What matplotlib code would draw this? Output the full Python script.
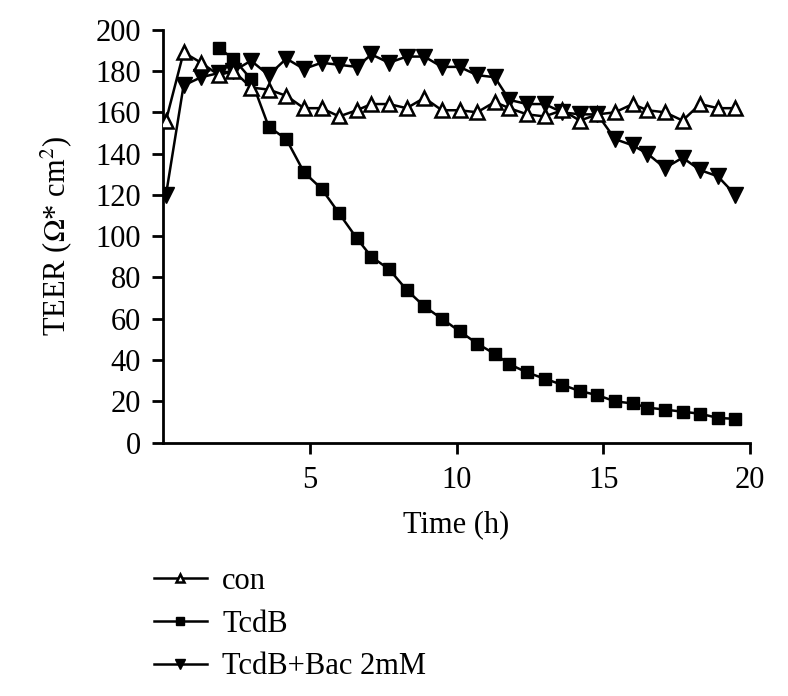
import matplotlib
matplotlib.use("Agg")
import matplotlib.pyplot as plt

plt.rcParams['font.family'] = ['Liberation Serif', 'DejaVu Serif']
plt.rcParams['mathtext.fontset'] = 'stix'

# time points (h)
time_h = [0.1, 0.7, 1.3, 1.9, 2.4, 3.0, 3.6, 4.2, 4.8, 5.4, 6.0, 6.6,
          7.1, 7.7, 8.3, 8.9, 9.5, 10.1, 10.7, 11.3, 11.8, 12.4, 13.0,
          13.6, 14.2, 14.8, 15.4, 16.0, 16.5, 17.1, 17.7, 18.3, 18.9, 19.5]

con = [156, 189, 184, 178, 180, 172, 171, 168, 162, 162, 158, 161,
       164, 164, 162, 167, 161, 161, 160, 165, 162, 159, 158, 161,
       156, 159, 160, 164, 161, 160, 156, 164, 162, 162]

# TcdB starts at the 4th time point
tcdb_start = 3
tcdb = [191, 186, 176, 153, 147, 131, 123, 111, 99, 90, 84, 74, 66,
        60, 54, 48, 43, 38, 34, 31, 28, 25, 23, 20, 19, 17, 16, 15,
        14, 12, 11.5]

tcdb_bac = [120, 173, 177, 179, 180, 185, 178, 186, 181, 184, 183, 182,
            188, 184, 187, 187, 182, 182, 178, 177, 166, 164, 164, 160,
            159, 159, 147, 144, 140, 133, 138, 132, 129, 120]

fs = 22

fig = plt.figure(figsize=(7.88, 6.96), dpi=100)
ax = fig.add_axes([0.2069, 0.364, 0.745, 0.5933])

ax.plot(time_h, con, color='black', lw=1.8, marker='^', ms=10,
        mfc='white', mec='black', mew=1.8, label='con', zorder=3)
ax.plot(time_h[tcdb_start:], tcdb, color='black', lw=1.8, marker='s', ms=9,
        mfc='black', mec='black', label='TcdB', zorder=2)
ax.plot(time_h, tcdb_bac, color='black', lw=1.8, marker='v', ms=11,
        mfc='black', mec='black', label='TcdB+Bac 2mM', zorder=2)

ax.set_xlim(0, 20)
ax.set_ylim(0, 200)
ax.set_xticks([5, 10, 15, 20])
ax.set_yticks(range(0, 201, 20))
for s in ['top', 'right']:
    ax.spines[s].set_visible(False)
for s in ['left', 'bottom']:
    ax.spines[s].set_linewidth(2)
ax.tick_params(axis='both', direction='out', length=8, width=2,
               labelsize=fs, colors='black')
ax.tick_params(axis='x', pad=9)
ax.tick_params(axis='y', pad=8)

ax.set_xlabel('Time (h)', fontsize=fs, labelpad=11)
ax.set_ylabel(r'TEER ($\Omega$* cm$^2$)', fontsize=fs, labelpad=15)

fig.legend(loc='upper left', bbox_to_anchor=(0.160, 0.225), frameon=False,
           fontsize=fs, markerscale=0.6, handlelength=1.75, handletextpad=0.5,
           labelspacing=0.45)

fig.savefig('out.png', dpi=100)
